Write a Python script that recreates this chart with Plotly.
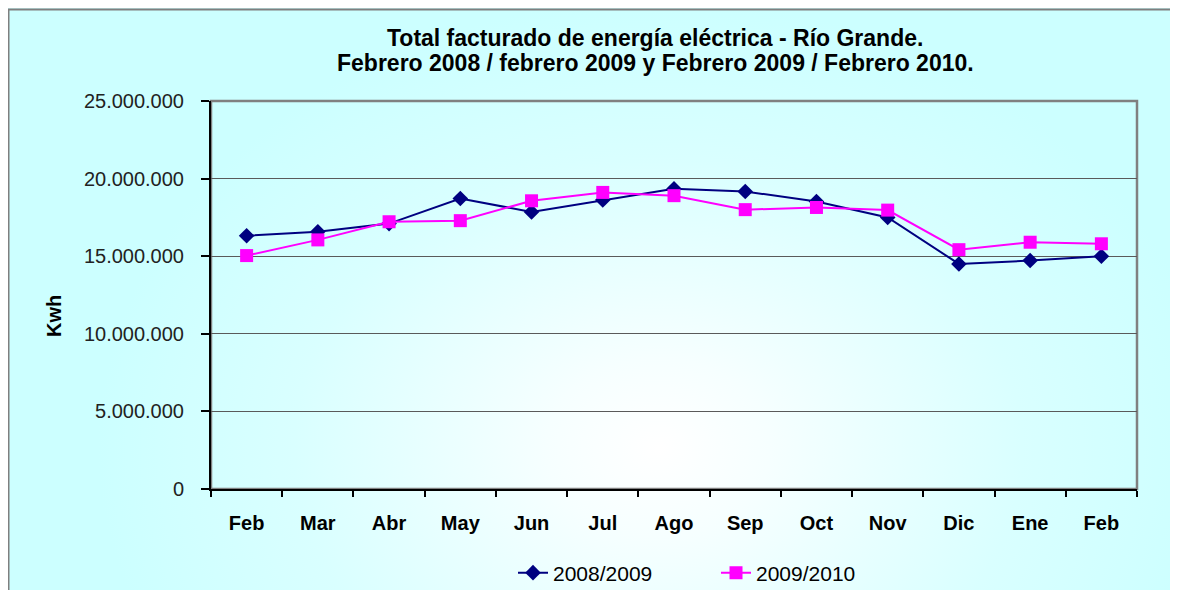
import base64
import plotly.graph_objects as go

months = ["Feb", "Mar", "Abr", "May", "Jun", "Jul", "Ago", "Sep", "Oct", "Nov", "Dic", "Ene", "Feb"]
serie_2008_2009 = [16320000, 16580000, 17100000, 18720000, 17850000, 18620000, 19350000, 19170000, 18520000, 17500000, 14500000, 14720000, 15000000]
serie_2009_2010 = [15040000, 16050000, 17220000, 17290000, 18570000, 19110000, 18900000, 18000000, 18140000, 17970000, 15420000, 15900000, 15800000]
y_ticks = [0, 5000000, 10000000, 15000000, 20000000, 25000000]

OFF = 8  # page body margin: reference pixel = figure pixel + 8
W, H = 1178 - OFF, 590 - OFF
# plot area in reference pixels: x 211..1137, y 101..489
PX0, PX1, PY0, PY1 = 211 - OFF, 1137 - OFF, 101 - OFF, 489 - OFF
L, R, T, B = PX0, W - PX1, PY0, H - PY1
pw, ph = PX1 - PX0, PY1 - PY0

def rx(px):  # reference pixel x -> paper
    return (px - OFF - PX0) / pw

def ry(py):  # reference pixel y -> paper
    return (PY1 - (py - OFF)) / ph

def cx(px):  # reference pixel x -> container
    return (px - OFF) / W

def cy(py):  # reference pixel y -> container
    return 1 - (py - OFF) / H

x_idx = list(range(len(months)))

# radial gradient background (SVG data URI), in figure pixels
svg = f'''<svg xmlns="http://www.w3.org/2000/svg" width="{W}" height="{H}" viewBox="0 0 {W} {H}" preserveAspectRatio="none">
<defs><radialGradient id="g" gradientUnits="userSpaceOnUse" cx="650" cy="440" r="560" gradientTransform="translate(650 440) scale(1 0.8) translate(-650 -440)">
<stop offset="0" stop-color="#FFFFFF"/><stop offset="0.2" stop-color="#F6FFFF"/><stop offset="0.65" stop-color="#D9FFFF"/><stop offset="1" stop-color="#CCFFFF"/></radialGradient></defs>
<rect x="0" y="0" width="{W}" height="{H}" fill="#CCFFFF"/>
<rect x="0" y="0" width="{W}" height="{H}" fill="url(#g)"/>
</svg>'''
src = "data:image/svg+xml;base64," + base64.b64encode(svg.encode()).decode()

fig = go.Figure()
fig.add_trace(go.Scatter(
    x=x_idx, y=serie_2008_2009, name="2008/2009", mode="lines+markers",
    line=dict(color="#000080", width=2),
    marker=dict(symbol="diamond", size=12, color="#000080"),
))
fig.add_trace(go.Scatter(
    x=x_idx, y=serie_2009_2010, name="2009/2010", mode="lines+markers",
    line=dict(color="#FF00FF", width=2),
    marker=dict(symbol="square", size=13, color="#FF00FF"),
))

ff = "Liberation Sans, Arial, sans-serif"

fig.update_layout(
    width=W, height=H,
    margin=dict(l=L, r=R, t=T, b=B, autoexpand=False),
    paper_bgcolor="#CCFFFF",
    plot_bgcolor="rgba(0,0,0,0)",
    separators=",.",
    font=dict(family=ff, color="black"),
    showlegend=True,
    xaxis=dict(
        range=[-0.5, len(months) - 0.5],
        tickmode="array", tickvals=x_idx, ticktext=months,
        ticks="", showgrid=False, zeroline=False,
        showline=True, linecolor="black", linewidth=2,
        tickfont=dict(size=20, family=ff, color="black", weight="bold"),
        ticklabelstandoff=15,
        minor=dict(ticks="outside", ticklen=6, tickcolor="black", tickwidth=1.5,
                   tick0=-0.5, dtick=1, showgrid=False),
        fixedrange=True,
    ),
    yaxis=dict(
        range=[0, 25000000],
        tickmode="array", tickvals=y_ticks,
        tickformat=",d",
        ticks="outside", ticklen=8, tickcolor="black", tickwidth=1.5,
        showgrid=True, gridcolor="#5A5A5A", gridwidth=1.3,
        zeroline=False,
        showline=True, linecolor="black", linewidth=2,
        tickfont=dict(size=20, family=ff, color="#222222"),
        ticklabelstandoff=13,
        fixedrange=True,
    ),
    legend=dict(
        orientation="h",
        xref="container", x=cx(513), xanchor="left",
        yref="container", y=cy(573), yanchor="middle",
        bgcolor="rgba(0,0,0,0)",
        font=dict(size=21, family=ff, color="black"),
        entrywidth=158, entrywidthmode="pixels",
    ),
    images=[dict(
        source=src, xref="paper", yref="paper",
        x=rx(OFF), y=ry(OFF),
        sizex=rx(OFF + W) - rx(OFF), sizey=ry(OFF) - ry(OFF + H),
        xanchor="left", yanchor="top", sizing="stretch", layer="below",
    )],
    shapes=[
        dict(type="rect", xref="paper", yref="paper",
             x0=rx(OFF + 0.5), x1=rx(OFF + W + 10),
             y0=ry(OFF + H + 10), y1=ry(OFF + 1.5),
             line=dict(color="#7F7F7F", width=2), fillcolor="rgba(0,0,0,0)", layer="below"),
        dict(type="rect", xref="paper", yref="paper", x0=0, x1=1, y0=0, y1=1,
             line=dict(color="#808080", width=2.5), fillcolor="rgba(0,0,0,0)", layer="below"),
    ],
    annotations=[
        dict(text="<b>Total facturado de energía eléctrica - Río Grande.</b>",
             xref="paper", yref="paper", x=rx(655), y=ry(38.5),
             xanchor="center", yanchor="middle", showarrow=False, borderpad=0,
             font=dict(size=23, family=ff, color="black")),
        dict(text="<b>Febrero 2008 / febrero 2009 y Febrero 2009 / Febrero 2010.</b>",
             xref="paper", yref="paper", x=rx(655), y=ry(63.5),
             xanchor="center", yanchor="middle", showarrow=False, borderpad=0,
             font=dict(size=23, family=ff, color="black")),
        dict(text="<b>Kwh</b>", xref="paper", yref="paper",
             x=rx(54), y=ry(316), xanchor="center", yanchor="middle",
             textangle=-90, showarrow=False,
             font=dict(size=20, family=ff, color="black")),
    ],
)

fig.write_html(
    "out.html",
    post_script="document.documentElement.style.overflow='hidden';document.body.style.overflow='hidden';",
)
